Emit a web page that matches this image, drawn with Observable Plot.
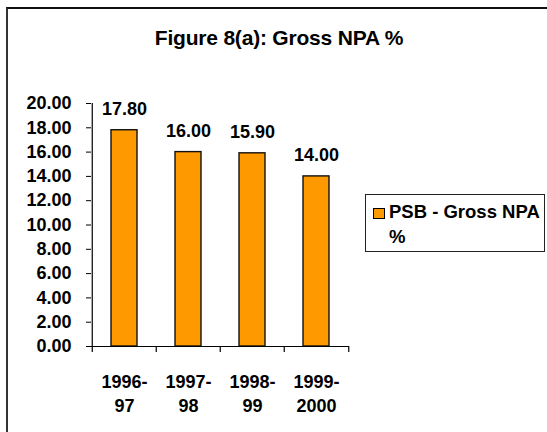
<!DOCTYPE html>
<html>
<head>
<meta charset="utf-8">
<script src="https://cdn.jsdelivr.net/npm/d3@7"></script>
<script src="https://cdn.jsdelivr.net/npm/@observablehq/plot@0.6"></script>
<style>
  html, body { margin: 0; padding: 0; background: #fff; }
  body { font-family: "Liberation Sans", Arial, sans-serif; }
  #wrap { position: relative; width: 547px; height: 432px; overflow: hidden; }
  #frame { position: absolute; left: 6px; top: 7px; width: 547px; height: 432px;
           border-left: 2px solid #333; border-top: 2px solid #111; box-sizing: border-box; }
  #title { position: absolute; left: 0; width: 558px; top: 27px; text-align: center;
           font-size: 21px; font-weight: bold; line-height: 21px; color: #000; letter-spacing: -0.2px; }
  #legend { position: absolute; left: 365px; top: 194px; width: 180px; height: 58px;
            border: 1px solid #222; box-sizing: border-box; }
  #legend .sw { position: absolute; left: 7px; top: 13px; width: 10px; height: 9px;
                border: 1px solid #000; }
  #legend .tx { position: absolute; left: 23px; top: 4px; font-size: 18.5px; font-weight: bold;
                line-height: 25px; color: #000; white-space: nowrap; }
  #chart { position: absolute; left: 0; top: 0; }
</style>
</head>
<body>
<div id="wrap">
  <div id="frame"></div>
  <div id="chart"></div>
  <div id="title"></div>
  <div id="legend"><div class="sw"></div><div class="tx"></div></div>
</div>
<script>
const title = "Figure 8(a): Gross NPA %";
const seriesName = ["PSB - Gross NPA", "%"];
const categories = ["1996-97", "1997-98", "1998-99", "1999-2000"];
const tickLabels = ["1996-\n97", "1997-\n98", "1998-\n99", "1999-\n2000"];
const values = [17.8, 16.0, 15.9, 14.0];
const yTicks = [0, 2, 4, 6, 8, 10, 12, 14, 16, 18, 20];
const barColor = "#FF9900";

const data = categories.map((c, i) => ({cat: c, value: values[i]}));

const W = 547, H = 432;
const mL = 91, mR = 198, mT = 103, mB = 86;
const step = (W - mL - mR) / categories.length;
const plotH = H - mT - mB;

const chart = Plot.plot({
  width: W, height: H,
  marginLeft: mL, marginRight: mR, marginTop: mT, marginBottom: mB,
  style: {fontFamily: "'Liberation Sans', Arial, sans-serif", fontSize: "18px", fontWeight: "bold", color: "#000", background: "transparent", overflow: "visible"},
  x: {domain: categories, paddingInner: 0.6, paddingOuter: 0.3, axis: null},
  y: {domain: [0, 20], axis: null},
  marks: [
    Plot.barY(data, {x: "cat", y: "value", fill: barColor, stroke: "#111", strokeWidth: 1.4}),
    Plot.ruleY([0], {stroke: "#000", strokeWidth: 1.2}),
    Plot.ruleX([categories[0]], {dx: -step / 2, stroke: "#000", strokeWidth: 1.2}),
    Plot.ruleX(categories, {dx: -step / 2, insetTop: plotH, insetBottom: -6, stroke: "#000", strokeWidth: 1.2}),
    Plot.ruleX([categories[categories.length - 1]], {dx: step / 2, insetTop: plotH, insetBottom: -6, stroke: "#000", strokeWidth: 1.2}),
    Plot.axisY({ticks: yTicks, tickFormat: d => d.toFixed(2), tickSize: 5, tickPadding: 15, label: null, fontSize: 18, fontWeight: "bold", stroke: "#000"}),
    Plot.axisX({tickFormat: d => tickLabels[categories.indexOf(d)], tickSize: 0, tickPadding: 24, lineHeight: 1.333, label: null, fontSize: 18, fontWeight: "bold"}),
    Plot.text(data, {x: "cat", y: "value", text: d => d.value.toFixed(2), lineAnchor: "bottom", dy: -15, fontSize: 18, fontWeight: "bold", fill: "#000"})
  ]
});
document.getElementById("chart").appendChild(chart);
document.getElementById("title").textContent = title;
document.querySelector("#legend .sw").style.background = barColor;
document.querySelector("#legend .tx").innerHTML = seriesName.join("<br>");
</script>
</body>
</html>
